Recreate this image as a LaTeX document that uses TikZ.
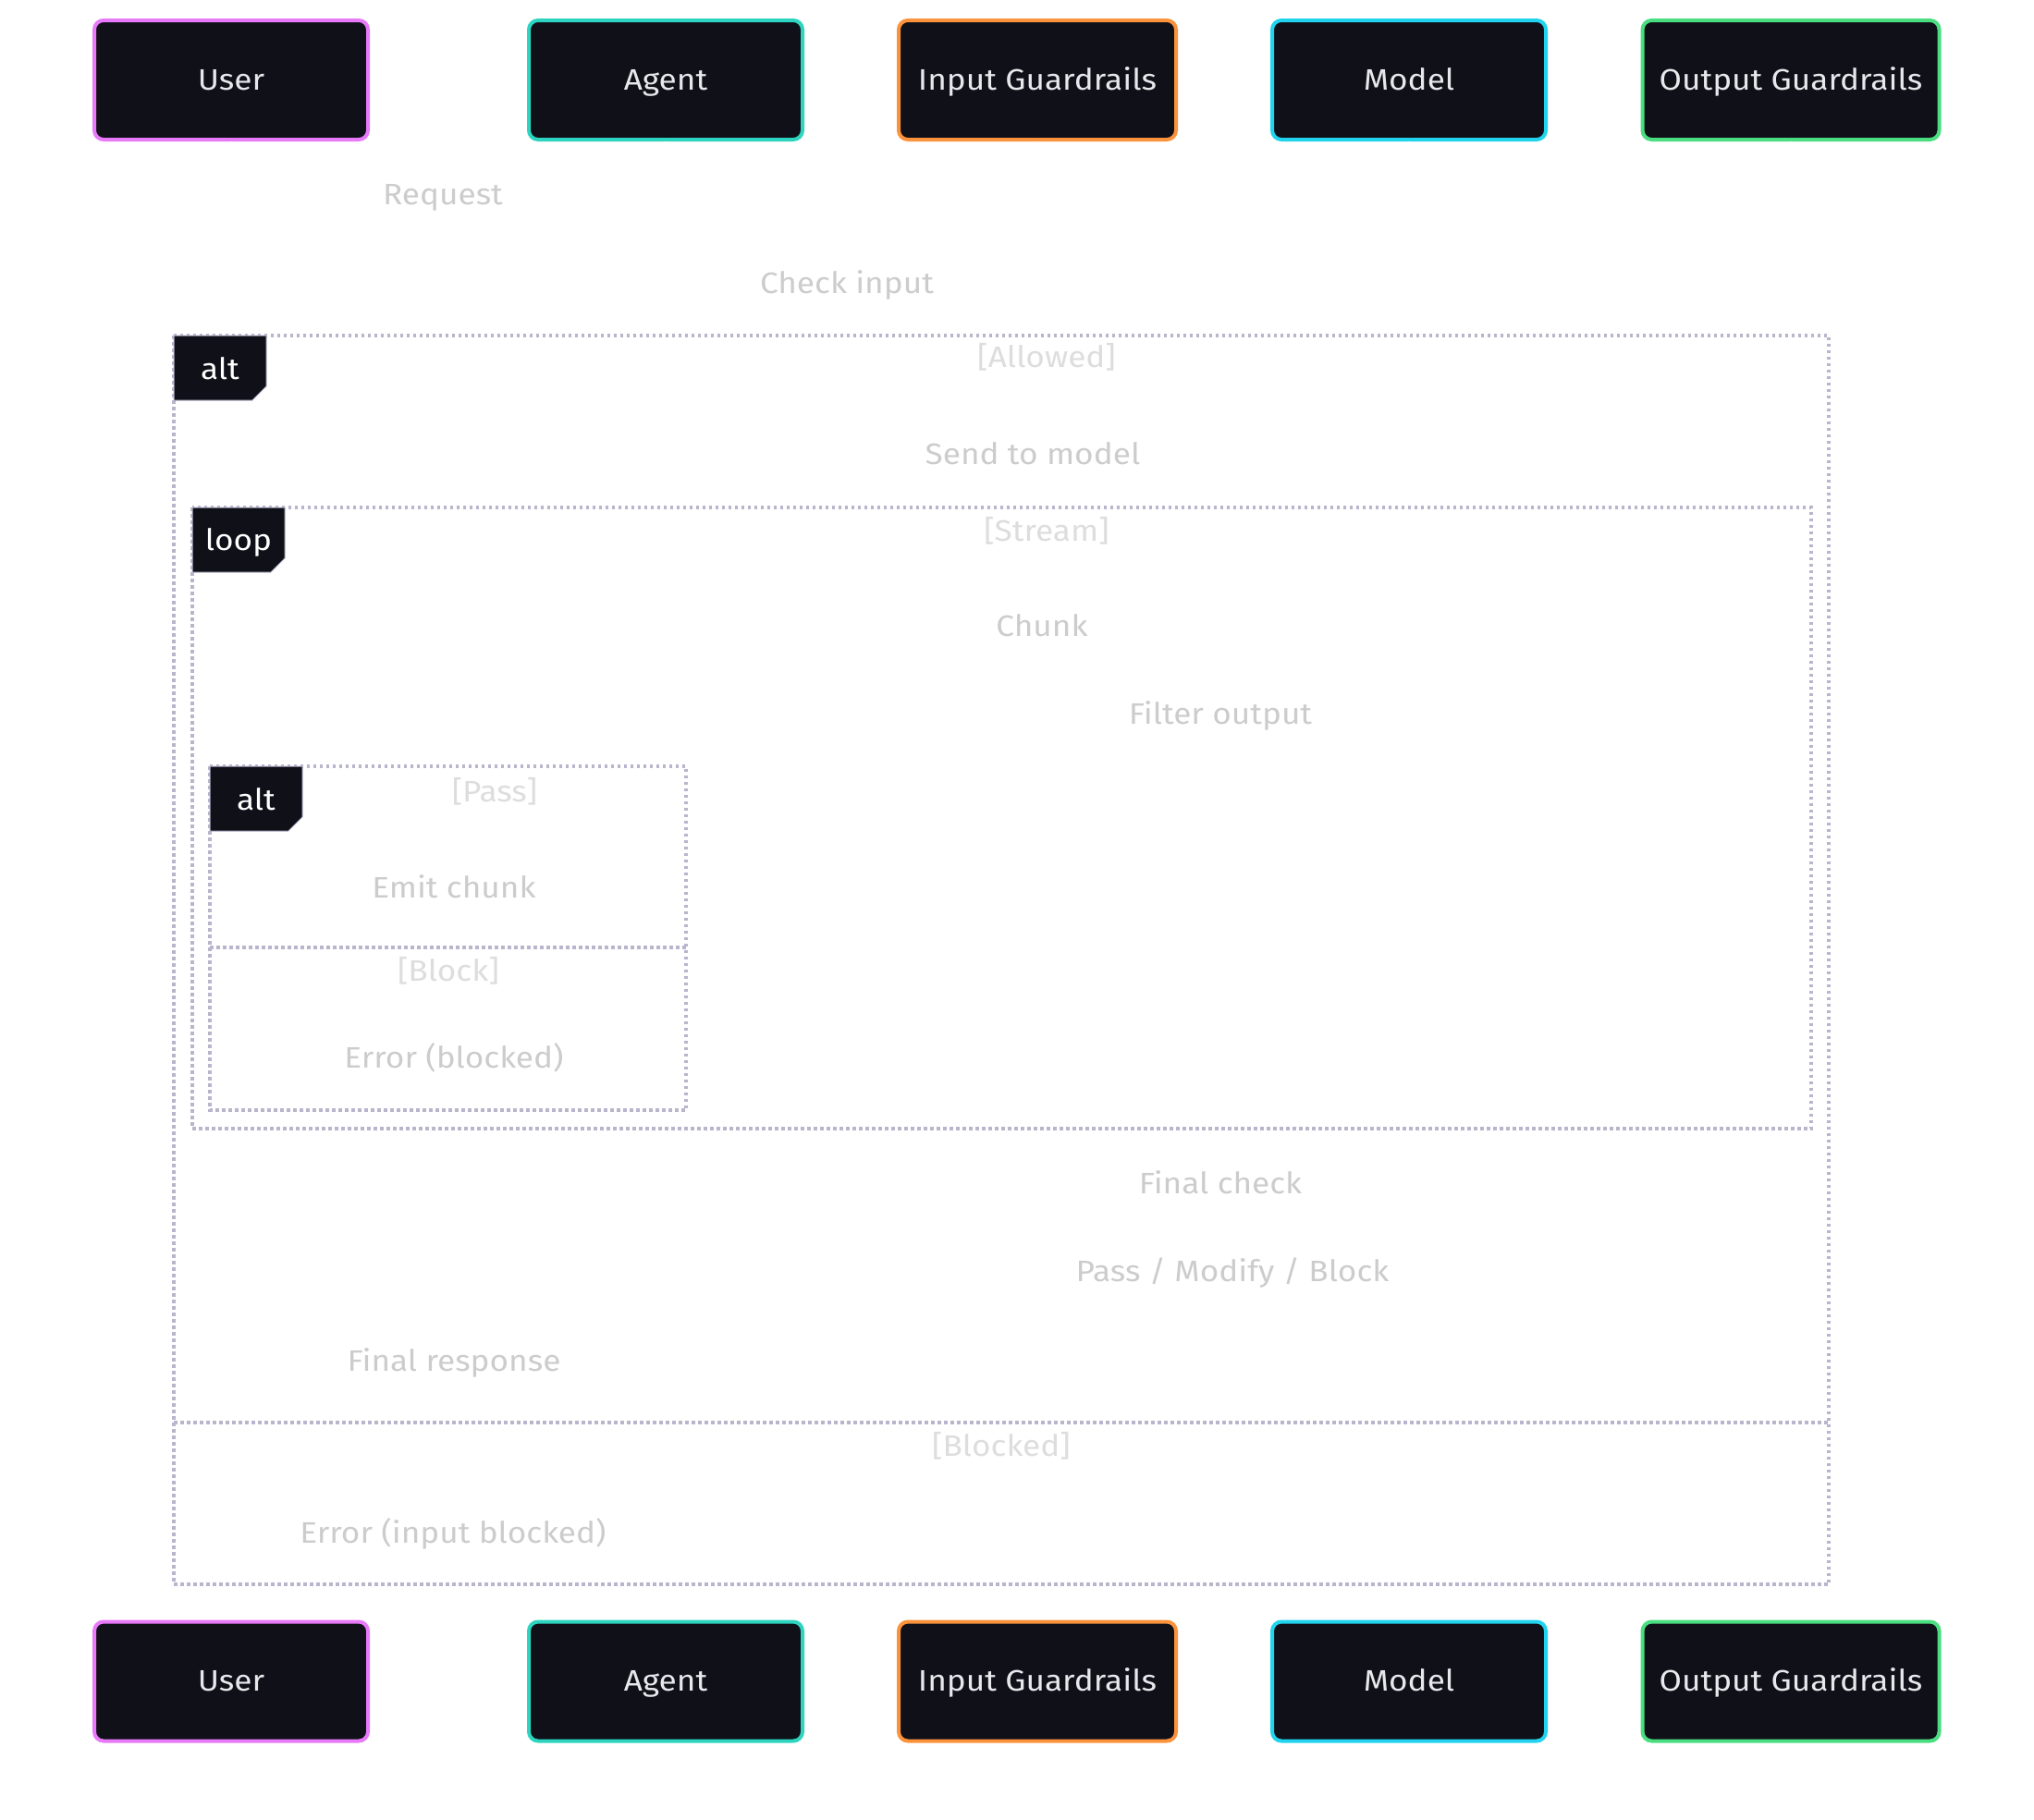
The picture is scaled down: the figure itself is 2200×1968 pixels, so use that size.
\documentclass[tikz,border=0pt]{standalone}
\usepackage{fontspec}
\setmainfont[FakeStretch=1.1]{Fira Sans}
\usetikzlibrary{arrows.meta}
\definecolor{boxfill}{HTML}{0F1018}
\definecolor{boxtext}{HTML}{E8E8EC}
\definecolor{msgtext}{HTML}{CCCCCC}
\definecolor{guardtext}{HTML}{DDDDDD}
\definecolor{framec}{HTML}{B8B5CC}
\definecolor{cUser}{HTML}{E879F9}
\definecolor{cAgent}{HTML}{2DD4BF}
\definecolor{cIG}{HTML}{FB923C}
\definecolor{cModel}{HTML}{22D3EE}
\definecolor{cOG}{HTML}{4ADE80}
\begin{document}
\begin{tikzpicture}[x=1pt,y=-1pt,
  txt/.style={text height=26pt, text depth=5pt, font=\fontsize{32}{38}\selectfont},
  actor/.style={txt, draw, line width=4pt, rounded corners=10pt, fill=boxfill, text=boxtext,
    minimum height=129pt, inner sep=0pt},
  msg/.style={txt, text=msgtext, inner sep=0pt},
  guard/.style={txt, text=guardtext, inner sep=0pt},
  lifeline/.style={draw=white, line width=2pt},
  arrowline/.style={draw=white, line width=2pt, -{Stealth[length=14pt]}},
  framebox/.style={draw=framec, line width=3.5pt, dash pattern=on 3.5pt off 3.5pt},
  tagbox/.style={fill=boxfill, draw=framec, line width=1pt},
  tagtext/.style={txt, text=white, inner sep=0pt}
]
\useasboundingbox[fill=white] (0,0) rectangle (2200,1968);

% actors top
\node[actor, draw=cUser,  minimum width=296pt] (uT) at (250,86.5) {User};
\node[actor, draw=cAgent, minimum width=296pt] (aT) at (720,86.5) {Agent};
\node[actor, draw=cIG,    minimum width=300pt] (iT) at (1122,86.5) {Input Guardrails};
\node[actor, draw=cModel, minimum width=296pt] (mT) at (1524,86.5) {Model};
\node[actor, draw=cOG,    minimum width=321pt] (oT) at (1937,86.5) {Output Guardrails};
% actors bottom
\node[actor, draw=cUser,  minimum width=296pt] (uB) at (250,1819) {User};
\node[actor, draw=cAgent, minimum width=296pt] (aB) at (720,1819) {Agent};
\node[actor, draw=cIG,    minimum width=300pt] (iB) at (1122,1819) {Input Guardrails};
\node[actor, draw=cModel, minimum width=296pt] (mB) at (1524,1819) {Model};
\node[actor, draw=cOG,    minimum width=321pt] (oB) at (1937,1819) {Output Guardrails};

% lifelines (white)
\draw[lifeline] (uT.south) -- ([yshift=6pt]uB.north);
\draw[lifeline] (aT.south) -- ([yshift=6pt]aB.north);
\draw[lifeline] (iT.south) -- ([yshift=6pt]iB.north);
\draw[lifeline] (mT.south) -- ([yshift=6pt]mB.north);
\draw[lifeline] (oT.south) -- ([yshift=6pt]oB.north);

% message coordinates on lifelines
\foreach \n/\x in {u/250,a/720,i/1122,m/1524,o/1937}{
  \foreach \k/\y in {1/245,2/342,3/527,4/713,5/808,6/996,7/1180,8/1316,9/1411,10/1508,11/1694}{
    \coordinate (\n\k) at (\x,\y);
  }
}
% message arrows (white) and labels
\draw[arrowline] (u1) -- (a1);
\node[msg] (l1) at (479,211) {Request};
\draw[arrowline] (a2) -- (i2);
\node[msg] (l2) at (916,307) {Check input};
\draw[arrowline] (a3) -- (m3);
\node[msg] (l3) at (1117,492) {Send to model};
\draw[arrowline] (m4) -- (a4);
\node[msg] (l4) at (1127,678) {Chunk};
\draw[arrowline] (a5) -- (o5);
\node[msg] (l5) at (1320,773) {Filter output};
\draw[arrowline] (a6) -- (u6);
\node[msg] (l6) at (491,961) {Emit chunk};
\draw[arrowline] (a7) -- (u7);
\node[msg] (l7) at (491,1145) {Error (blocked)};
\draw[arrowline] (a8) -- (o8);
\node[msg] (l8) at (1320,1281) {Final check};
\draw[arrowline] (o9) -- (a9);
\node[msg] (l9) at (1333,1376) {Pass / Modify / Block};
\draw[arrowline] (a10) -- (u10);
\node[msg] (l10) at (491,1473) {Final response};
\draw[arrowline] (a11) -- (u11);
\node[msg] (l11) at (490,1659) {Error (input blocked)};

% outer alt frame
\draw[framebox] (188,363) rectangle (1978,1714);
\draw[framebox] (188,1539) -- (1978,1539);
\fill[tagbox] (188,363) -- (288,363) -- (288,418) -- (273,433) -- (188,433) -- cycle;
\node[tagtext] (t1) at (238,400) {alt};
\node[guard] (g1) at (1132,387) {[Allowed]};
\node[guard] (g2) at (1083,1565) {[Blocked]};

% loop frame
\draw[framebox] (208,549) rectangle (1959,1221);
\fill[tagbox] (208,549) -- (308,549) -- (308,604) -- (293,619) -- (208,619) -- cycle;
\node[tagtext] (t2) at (258,585) {loop};
\node[guard] (g3) at (1132,575) {[Stream]};

% inner alt frame
\draw[framebox] (227,829) rectangle (742,1201);
\draw[framebox] (227,1025) -- (742,1025);
\fill[tagbox] (227,829) -- (327,829) -- (327,884) -- (312,899) -- (227,899) -- cycle;
\node[tagtext] (t3) at (277,866) {alt};
\node[guard] (g4) at (535,857) {[Pass]};
\node[guard] (g5) at (485,1051) {[Block]};
\end{tikzpicture}
\end{document}
